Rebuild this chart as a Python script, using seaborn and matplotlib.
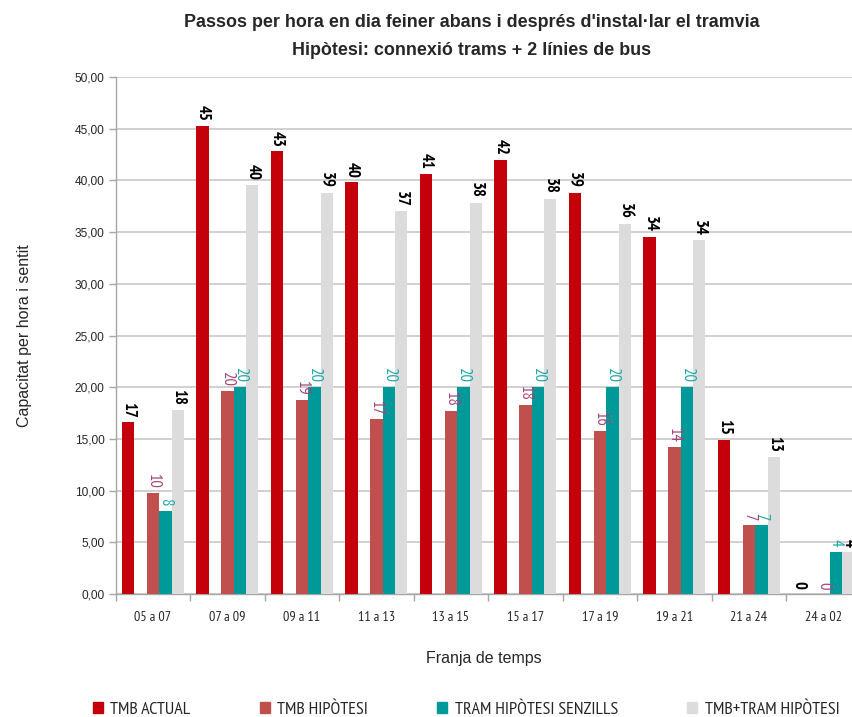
import matplotlib
matplotlib.use("Agg")
import matplotlib.pyplot as plt
import matplotlib.patches as mpatches
from matplotlib.ticker import FuncFormatter, FixedLocator
import seaborn as sns
import pandas as pd

franges = ["05 a 07", "07 a 09", "09 a 11", "11 a 13", "13 a 15",
           "15 a 17", "17 a 19", "19 a 21", "21 a 24", "24 a 02"]
tmb_actual = [16.6, 45.3, 42.8, 39.8, 40.6, 42.0, 38.8, 34.5, 14.9, 0.0]
tmb_hipotesi = [9.8, 19.6, 18.8, 16.9, 17.7, 18.3, 15.8, 14.2, 6.7, 0.0]
tram_senzills = [8.0, 20.0, 20.0, 20.0, 20.0, 20.0, 20.0, 20.0, 6.7, 4.1]
tmb_tram = [17.8, 39.6, 38.8, 37.0, 37.8, 38.2, 35.8, 34.2, 13.3, 4.1]

# the second slot stays empty: it keeps the gap after the first bar of each group
series = ["TMB ACTUAL", "(buit)", "TMB HIPÒTESI", "TRAM HIPÒTESI SENZILLS", "TMB+TRAM HIPÒTESI"]
valors = [tmb_actual, [0.0] * len(franges), tmb_hipotesi, tram_senzills, tmb_tram]
colors = ["#C4000B", "#FFFFFF", "#C0504D", "#009999", "#DCDCDC"]

rows = []
for s, vals in zip(series, valors):
    for f, v in zip(franges, vals):
        rows.append({"franja": f, "serie": s, "valor": v})
df = pd.DataFrame(rows)

sns.set_style("white")
REGULAR = ["Liberation Sans", "DejaVu Sans"]
NARROW = ["Arial Narrow", "PT Sans Narrow", "Archivo Narrow", "Roboto Condensed",
          "Liberation Sans", "DejaVu Sans"]
plt.rcParams["font.family"] = REGULAR

fig = plt.figure(figsize=(8.52, 7.17), dpi=100)
ax = fig.add_axes([0.1358, 0.1715, 1.0 - 0.1358, 0.8926 - 0.1715])

sns.barplot(data=df, x="franja", y="valor", hue="serie", hue_order=series,
            order=franges, palette=colors, saturation=1, width=5 / 6, dodge=True,
            linewidth=0, errorbar=None, legend=False, ax=ax, zorder=3)

ax.set_ylim(0, 50)
ax.set_xlim(-0.5, -0.5 + (852 - 115.7) / 74.5)
ax.yaxis.set_major_locator(FixedLocator(range(0, 51, 5)))
ax.yaxis.set_major_formatter(FuncFormatter(lambda v, p: f"{v:.2f}".replace(".", ",")))
ax.grid(axis="y", color="#C8C8C8", linewidth=1.2, zorder=0)
ax.set_axisbelow(True)

for side in ["top", "right"]:
    ax.spines[side].set_visible(False)
for side in ["left", "bottom"]:
    ax.spines[side].set_color("#A6A6A6")
    ax.spines[side].set_linewidth(1.0)

ax.tick_params(axis="y", which="major", length=5, color="#A6A6A6", width=1,
               labelsize=8.6, pad=3, left=True)
ax.tick_params(axis="x", which="major", length=0, pad=12)
ax.set_xticks(range(len(franges)))
ax.set_xticklabels(franges, family=NARROW, fontsize=10.2)
ax.xaxis.set_minor_locator(FixedLocator([i - 0.5 for i in range(len(franges) + 1)]))
ax.tick_params(axis="x", which="minor", length=5, color="#A6A6A6", width=1, bottom=True)

ax.set_xlabel("Franja de temps", fontsize=11.5, labelpad=20)
ax.set_ylabel("Capacitat per hora i sentit", fontsize=11.5, labelpad=31)

# value labels above the bars, read top to bottom
label_style = {
    0: dict(color="black", fontweight="bold"),
    2: dict(color="#A3437C", fontweight="normal"),
    3: dict(color="#1FA7A7", fontweight="normal"),
    4: dict(color="black", fontweight="bold"),
}
for idx, cont in enumerate(ax.containers):
    if idx not in label_style:
        continue
    for bar in cont:
        h = bar.get_height()
        xc = bar.get_x() + bar.get_width() / 2
        ax.annotate(f"{h:.0f}", xy=(xc, h), xytext=(0, 3.5), textcoords="offset points",
                    ha="center", va="bottom", rotation=-90, fontsize=12,
                    family=NARROW, annotation_clip=False, **label_style[idx])

fig.text(0.554, 0.969, "Passos per hora en dia feiner abans i després d'instal·lar el tramvia",
         ha="center", va="center", fontsize=12.9, fontweight="bold")
fig.text(0.554, 0.930, "Hipòtesi: connexió trams + 2 línies de bus",
         ha="center", va="center", fontsize=12.9, fontweight="bold")

handles = [mpatches.Patch(color=colors[i], label=series[i]) for i in (0, 2, 3, 4)]
fig.legend(handles=handles, loc="center left", bbox_to_anchor=(93 / 852, 7 / 717),
           ncol=4, frameon=False, prop={"family": NARROW, "size": 13},
           handlelength=0.55, handleheight=0.55, handletextpad=0.4,
           columnspacing=3.85, borderaxespad=0, borderpad=0)

fig.savefig("out.png", dpi=100)
